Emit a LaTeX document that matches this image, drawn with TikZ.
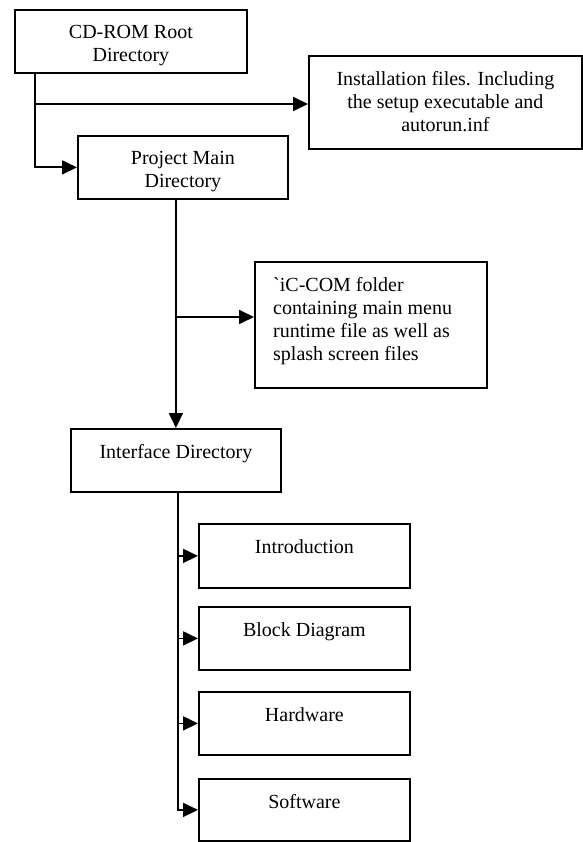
\documentclass[tikz,border=0pt]{standalone}
\usepackage{fontspec}
\setmainfont{Liberation Serif}
\usetikzlibrary{arrows.meta}
\begin{document}
\begin{tikzpicture}[x=1pt,y=-1pt,
 box/.style={draw, line width=1.8pt, anchor=north west, inner sep=0pt},
 txt/.style={anchor=north, inner sep=0pt, align=center, font=\fontsize{20}{23}\selectfont},
 arr/.style={line width=1.8pt, -{Triangle[length=15pt,width=14pt]}}]
\useasboundingbox (0,0) rectangle (582,842);
% boxes
\node[box, minimum width=232pt, minimum height=63pt] (cd) at (14,9) {};
\node[box, minimum width=273pt, minimum height=93pt] (inst) at (308,55) {};
\node[box, minimum width=210pt, minimum height=63pt] (proj) at (77,135) {};
\node[box, minimum width=232pt, minimum height=126pt] (ic) at (254,261) {};
\node[box, minimum width=210pt, minimum height=63pt] (iface) at (70,428) {};
\node[box, minimum width=211pt, minimum height=64pt] (intro) at (198,523) {};
\node[box, minimum width=211pt, minimum height=63pt] (block) at (198,606) {};
\node[box, minimum width=211pt, minimum height=63pt] (hw) at (198,691) {};
\node[box, minimum width=211pt, minimum height=62pt] (sw) at (198,778) {};
% texts
\node[txt] (cdT) at ([yshift=-16pt]cd.north) {CD-ROM Root\\Directory};
\node[txt] (instT) at ([yshift=-16pt]inst.north) {Installation files. Including\\the setup executable and\\autorun.inf};
\node[txt] (projT) at ([yshift=-16pt]proj.north) {Project Main\\Directory};
\node[txt, anchor=north west, align=left] (icT) at ([xshift=19pt,yshift=-16pt]ic.north west) {\textasciigrave iC-COM folder\\containing main menu\\runtime file as well as\\splash screen files};
\node[txt] (ifaceT) at ([yshift=-16pt]iface.north) {Interface Directory};
\node[txt] (introT) at ([yshift=-16pt]intro.north) {Introduction};
\node[txt] (blockT) at ([yshift=-16pt]block.north) {Block Diagram};
\node[txt] (hwT) at ([yshift=-16pt]hw.north) {Hardware};
\node[txt] (swT) at ([yshift=-16pt]sw.north) {Software};
% connectors
\coordinate (t1) at ([xshift=21pt]cd.south west);
\draw[arr] (t1) |- (proj.west);
\coordinate (j1) at (35,104);
\draw[arr] (j1) -- (j1 -| inst.west);
\draw[arr] (proj.south -| iface.north) -- (iface.north);
\coordinate (j2) at (175,317);
\draw[arr] (j2) -- (j2 -| ic.west);
\coordinate (t2) at ([xshift=108pt]iface.south west);
\draw[arr] (t2) |- (sw.west);
\draw[arr] (t2 |- intro.west) -- (intro.west);
\draw[arr] (t2 |- block.west) -- (block.west);
\draw[arr] (t2 |- hw.west) -- (hw.west);
\end{tikzpicture}
\end{document}
